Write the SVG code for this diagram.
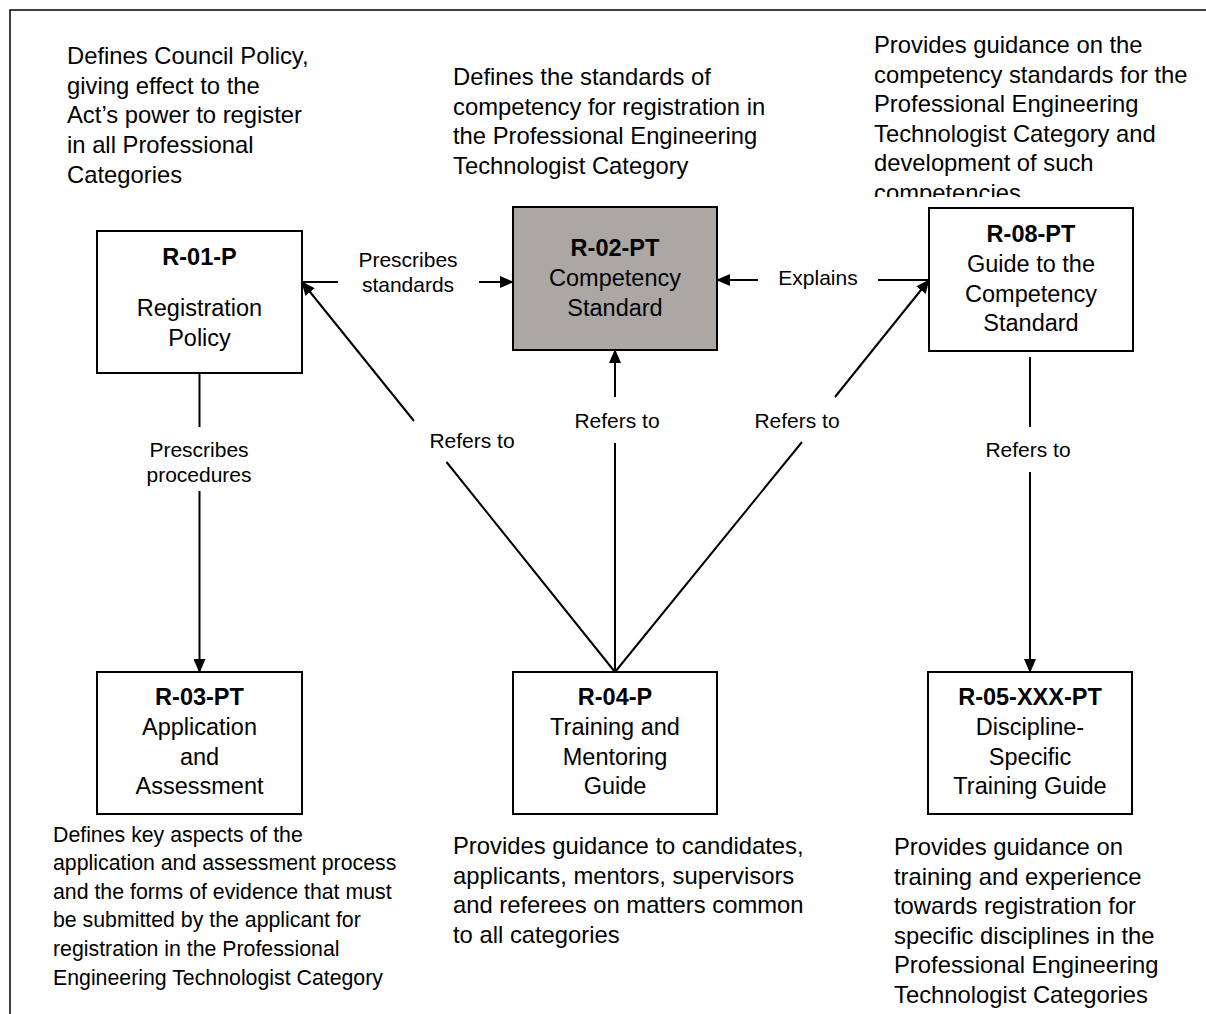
<svg xmlns="http://www.w3.org/2000/svg" width="1206" height="1014" viewBox="0 0 1206 1014">
<defs>
<style>
text{font-family:"Liberation Sans",Arial,sans-serif;fill:#000}
.box{fill:#fff;stroke:#000;stroke-width:2}
.grey{fill:#ABA7A5}
.bt{font-size:23.5px;text-anchor:middle}
.b{font-weight:bold}
.lbl{font-size:21px;text-anchor:middle}
.desc{font-size:23.8px}
.small{font-size:21.3px}
.ln{fill:none;stroke:#000;stroke-width:2}
</style>
<marker id="ah" markerUnits="userSpaceOnUse" markerWidth="14" markerHeight="12" refX="13" refY="6" orient="auto">
<path d="M0,0 L14,6 L0,12 z" fill="#000"/>
</marker>
<clipPath id="clipTR"><rect x="860" y="0" width="346" height="197"/></clipPath>
</defs>
<rect x="0" y="0" width="1206" height="1014" fill="#fff"/>
<path d="M10,1014 L10,10 L1206,10" fill="none" stroke="#000" stroke-width="1.5"/>

<g id="desc-top-left" class="desc">
<text x="67" y="64">Defines Council Policy,</text>
<text x="67" y="94">giving effect to the</text>
<text x="67" y="123">Act’s power to register</text>
<text x="67" y="153">in all Professional</text>
<text x="67" y="183">Categories</text>
</g>
<g id="desc-top-middle" class="desc">
<text x="453" y="85">Defines the standards of</text>
<text x="453" y="115">competency for registration in</text>
<text x="453" y="144">the Professional Engineering</text>
<text x="453" y="174">Technologist Category</text>
</g>
<g id="desc-top-right" class="desc" clip-path="url(#clipTR)">
<text x="874" y="53">Provides guidance on the</text>
<text x="874" y="83">competency standards for the</text>
<text x="874" y="112">Professional Engineering</text>
<text x="874" y="142">Technologist Category and</text>
<text x="874" y="171">development of such</text>
<text x="874" y="201">competencies</text>
</g>

<g id="connectors">
<path class="ln" d="M302,282 L338,282"/>
<path class="ln" d="M479,282 L513,282" marker-end="url(#ah)"/>
<path class="ln" d="M929,280 L878,280"/>
<path class="ln" d="M758,280 L717,280" marker-end="url(#ah)"/>
<path class="ln" d="M199.5,351 L199.5,427"/>
<path class="ln" d="M199.5,491 L199.5,672" marker-end="url(#ah)"/>
<path class="ln" d="M615,672 L446.5,462"/>
<path class="ln" d="M414,421 L302,282" marker-end="url(#ah)"/>
<path class="ln" d="M615,672 L615,443"/>
<path class="ln" d="M615,397 L615,350" marker-end="url(#ah)"/>
<path class="ln" d="M615,672 L802,442"/>
<path class="ln" d="M835,397 L929,280" marker-end="url(#ah)"/>
<path class="ln" d="M1030,357 L1030,427"/>
<path class="ln" d="M1030,472 L1030,672" marker-end="url(#ah)"/>
<g class="lbl">
<text x="408" y="267">Prescribes</text>
<text x="408" y="292">standards</text>
<text x="818" y="285">Explains</text>
<text x="199" y="457">Prescribes</text>
<text x="199" y="482">procedures</text>
<text x="472" y="448">Refers to</text>
<text x="617" y="428">Refers to</text>
<text x="797" y="428">Refers to</text>
<text x="1028" y="457">Refers to</text>
</g>
</g>

<g id="R-01-P">
<rect class="box" x="97" y="231" width="205" height="142"/>
<text class="bt b" x="199.5" y="265">R-01-P</text>
<text class="bt" x="199.5" y="316">Registration</text>
<text class="bt" x="199.5" y="346">Policy</text>
</g>
<g id="R-02-PT">
<rect class="box grey" x="513" y="207" width="204" height="143"/>
<text class="bt b" x="615" y="256">R-02-PT</text>
<text class="bt" x="615" y="286">Competency</text>
<text class="bt" x="615" y="316">Standard</text>
</g>
<g id="R-08-PT">
<rect class="box" x="929" y="208" width="204" height="143"/>
<text class="bt b" x="1031" y="242">R-08-PT</text>
<text class="bt" x="1031" y="272">Guide to the</text>
<text class="bt" x="1031" y="302">Competency</text>
<text class="bt" x="1031" y="331">Standard</text>
</g>
<g id="R-03-PT">
<rect class="box" x="97" y="672" width="205" height="142"/>
<text class="bt b" x="199.5" y="705">R-03-PT</text>
<text class="bt" x="199.5" y="735">Application</text>
<text class="bt" x="199.5" y="765">and</text>
<text class="bt" x="199.5" y="794">Assessment</text>
</g>
<g id="R-04-P">
<rect class="box" x="513" y="672" width="204" height="142"/>
<text class="bt b" x="615" y="705">R-04-P</text>
<text class="bt" x="615" y="735">Training and</text>
<text class="bt" x="615" y="765">Mentoring</text>
<text class="bt" x="615" y="794">Guide</text>
</g>
<g id="R-05-XXX-PT">
<rect class="box" x="928" y="672" width="204" height="142"/>
<text class="bt b" x="1030" y="705">R-05-XXX-PT</text>
<text class="bt" x="1030" y="735">Discipline-</text>
<text class="bt" x="1030" y="765">Specific</text>
<text class="bt" x="1030" y="794">Training Guide</text>
</g>

<g id="desc-bottom-left" class="small">
<text x="53" y="842">Defines key aspects of the</text>
<text x="53" y="870">application and assessment process</text>
<text x="53" y="899">and the forms of evidence that must</text>
<text x="53" y="927">be submitted by the applicant for</text>
<text x="53" y="956">registration in the Professional</text>
<text x="53" y="985">Engineering Technologist Category</text>
</g>
<g id="desc-bottom-middle" class="desc">
<text x="453" y="854">Provides guidance to candidates,</text>
<text x="453" y="884">applicants, mentors, supervisors</text>
<text x="453" y="913">and referees on matters common</text>
<text x="453" y="943">to all categories</text>
</g>
<g id="desc-bottom-right" class="desc">
<text x="894" y="855">Provides guidance on</text>
<text x="894" y="885">training and experience</text>
<text x="894" y="914">towards registration for</text>
<text x="894" y="944">specific disciplines in the</text>
<text x="894" y="973">Professional Engineering</text>
<text x="894" y="1003">Technologist Categories</text>
</g>
</svg>
